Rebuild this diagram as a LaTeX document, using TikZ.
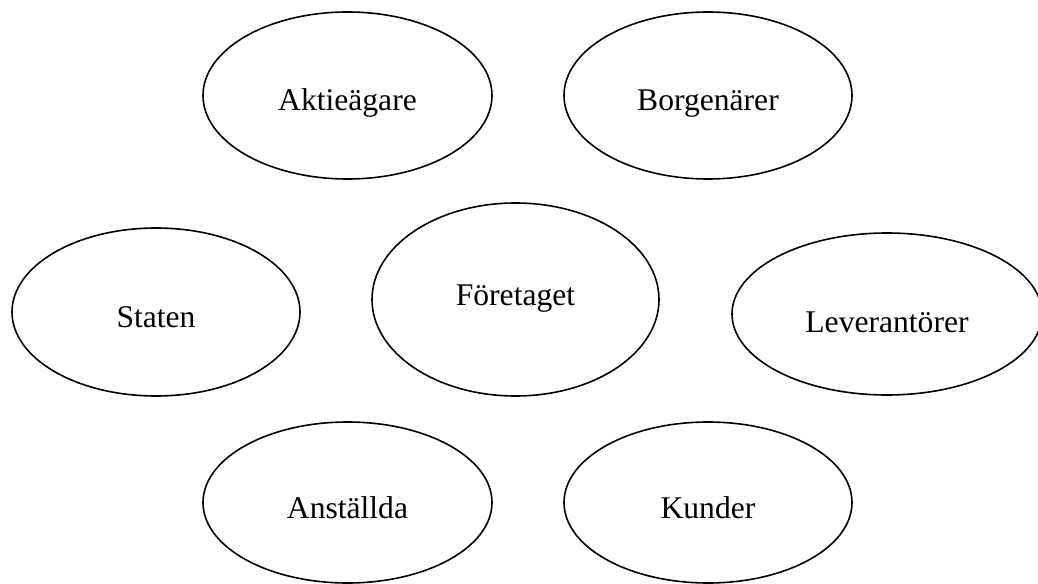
\documentclass[tikz,border=0pt]{standalone}
\usepackage{fontspec}
\setmainfont{Liberation Serif}
\begin{document}
\begin{tikzpicture}[x=1bp,y=-1bp,
    stakeline/.style={line width=1.6bp, black},
    stakelabel/.style={anchor=base, inner sep=0pt, font=\fontsize{31.6bp}{38bp}\selectfont}]
  \useasboundingbox (0,0) rectangle (1038,584);
  \clip (0,0) rectangle (1038,584);

  % stakeholder ellipses (centre, x radius, y radius)
  \draw[stakeline] (347.5,95.5)  ellipse [x radius=144.5, y radius=83.5];
  \draw[stakeline] (708,95.5)    ellipse [x radius=144,   y radius=83.5];
  \draw[stakeline] (156,312)     ellipse [x radius=144,   y radius=84];
  \draw[stakeline] (515.5,299.5) ellipse [x radius=143.5, y radius=96.5];
  \draw[stakeline] (887,314)     ellipse [x radius=155,   y radius=81];
  \draw[stakeline] (347.5,502.5) ellipse [x radius=144.5, y radius=80.5];
  \draw[stakeline] (708,502.5)   ellipse [x radius=144,   y radius=80.5];

  % labels
  \node[stakelabel] (aktie)  at (347.5,111) {Aktieägare};
  \node[stakelabel] (borg)   at (708,111)   {Borgenärer};
  \node[stakelabel] (staten) at (156,327)   {Staten};
  \node[stakelabel] (foret)  at (515.5,306) {Företaget};
  \node[stakelabel] (lev)    at (887,332)   {Leverantörer};
  \node[stakelabel] (anst)   at (347.5,518) {Anställda};
  \node[stakelabel] (kund)   at (708,518)   {Kunder};
\end{tikzpicture}
\end{document}
